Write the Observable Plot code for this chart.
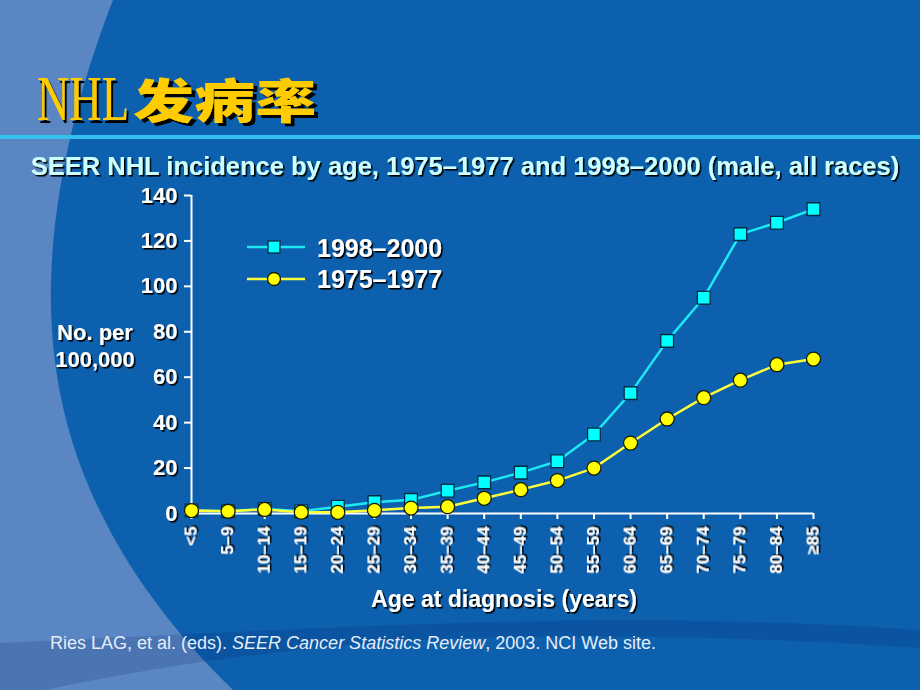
<!DOCTYPE html>
<html><head><meta charset="utf-8">
<script src="https://cdn.jsdelivr.net/npm/d3@7"></script>
<script src="https://cdn.jsdelivr.net/npm/@observablehq/plot@0.6"></script>
<style>
html,body{margin:0;padding:0;}
body{width:920px;height:690px;position:relative;overflow:hidden;background:#0d60ae;font-family:"Liberation Sans",Arial,sans-serif;}
.abs{position:absolute;left:0;top:0;}
</style></head>
<body>
<svg class="abs" width="920" height="690" id="bg">
  <defs>
    <filter id="ds" x="-10%" y="-20%" width="130%" height="150%">
      <feDropShadow dx="1.6" dy="1.6" stdDeviation="0.3" flood-color="#000" flood-opacity="1"/>
    </filter>
    <filter id="ds3" x="-10%" y="-20%" width="130%" height="150%">
      <feDropShadow dx="3" dy="3" stdDeviation="0.3" flood-color="#000" flood-opacity="1"/>
    </filter>
  </defs>
  <rect width="920" height="690" fill="#0d60ae"/>
  <path d="M0,0 L113,0 C70,110 45,230 52,330 C60,460 120,580 233,690 L0,690 Z" fill="#5a86c4"/>
  <path d="M0,643 C150,636 300,628 460,623 C620,618 780,620 920,630 L920,648 C780,638 620,634 460,638 C300,645 150,665 0,700 Z" fill="#001a60" fill-opacity="0.16"/>
  <rect x="0" y="135" width="920" height="4" fill="#35c0f0"/>
  <text transform="translate(37,120) scale(0.7,1)" font-family="'Liberation Serif','Times New Roman',serif" font-size="64" fill="#ffcc00" filter="url(#ds3)">NHL</text>
  <text transform="translate(133,118) scale(1.3,1)" font-family="'Noto Sans CJK SC',sans-serif" font-weight="900" font-size="47" fill="#ffcc00" filter="url(#ds3)">发病率</text>
  <text x="465" y="175" font-weight="bold" font-size="25.5" text-anchor="middle" fill="#ccffff" filter="url(#ds)">SEER NHL incidence by age, 1975–1977 and 1998–2000 (male, all races)</text>
  <g font-weight="bold" font-size="22" text-anchor="middle" fill="#fff" filter="url(#ds)">
    <text x="95" y="340">No. per</text>
    <text x="95" y="367">100,000</text>
  </g>
  <text x="504" y="607" font-weight="bold" font-size="23" text-anchor="middle" fill="#fff" filter="url(#ds)">Age at diagnosis (years)</text>
  <text x="50" y="649" font-size="18" fill="#e6edf7">Ries LAG, et al. (eds). <tspan font-style="italic">SEER Cancer Statistics Review</tspan>, 2003. NCI Web site.</text>
</svg>
<div id="chart" class="abs" style="top:180px;"></div>
<svg class="abs" width="920" height="690" id="legend" style="pointer-events:none">
  <line x1="247" y1="247" x2="305" y2="247" stroke="#1de9f6" stroke-width="2.5"/>
  <rect x="268" y="241" width="12" height="12" fill="#00ffff" stroke="#062a44" stroke-width="1.3"/>
  <line x1="247" y1="279" x2="305" y2="279" stroke="#ffff3a" stroke-width="2.5"/>
  <circle cx="274" cy="279" r="6.5" fill="#ffff00" stroke="#1a1a00" stroke-width="1.3"/>
  <g font-weight="bold" font-size="25" fill="#fff" filter="url(#ds)">
    <text x="317" y="257">1998–2000</text>
    <text x="317" y="288">1975–1977</text>
  </g>
</svg>
<script>
const ages = ["<5","5–9","10–14","15–19","20–24","25–29","30–34","35–39","40–44","45–49","50–54","55–59","60–64","65–69","70–74","75–79","80–84","≥85"];
const rate1998 = [1.3, 1.0, 2.0, 1.0, 3.0, 5.0, 6.0, 10.0, 13.7, 18.0, 23.0, 34.8, 53.0, 76.0, 95.0, 123.0, 128.0, 134.0];
const rate1975 = [1.3, 1.0, 1.8, 0.6, 0.5, 1.4, 2.4, 3.0, 6.7, 10.5, 14.5, 20.0, 31.0, 41.6, 51.0, 58.7, 65.5, 68.0];
const yTicks = [0, 20, 40, 60, 80, 100, 120, 140];

const rowsNew = ages.map((a, i) => ({age: a, v: rate1998[i]}));
const rowsOld = ages.map((a, i) => ({age: a, v: rate1975[i]}));

const chart = Plot.plot({
  width: 920,
  height: 440,
  marginTop: 15,
  marginBottom: 107,
  marginLeft: 191,
  marginRight: 107,
  style: {background: "transparent", color: "white", fontFamily: "'Liberation Sans', Arial, sans-serif", fontWeight: "bold", overflow: "visible"},
  x: {type: "point", domain: ages, padding: 0, round: false, axis: null},
  y: {domain: [0, 140], axis: null},
  marks: [
    Plot.axisY(yTicks, {tickSize: 7, tickPadding: 7, fill: "white", stroke: "white", strokeWidth: 2, fontSize: 22, label: null}),
    Plot.axisX(ages, {tickSize: 6, tickPadding: 7, tickRotate: -90, fill: "white", stroke: "white", strokeWidth: 2, fontSize: 17, label: null}),
    Plot.ruleX([ages[0]], {stroke: "white", strokeWidth: 2}),
    Plot.ruleY([0], {stroke: "white", strokeWidth: 2}),
    Plot.line(rowsNew, {x: "age", y: "v", stroke: "#1de9f6", strokeWidth: 2.5}),
    Plot.dot(rowsNew, {x: "age", y: "v", symbol: "square", r: 7.2, fill: "#00ffff", stroke: "#062a44", strokeWidth: 1.3}),
    Plot.line(rowsOld, {x: "age", y: "v", stroke: "#ffff3a", strokeWidth: 2.5}),
    Plot.dot(rowsOld, {x: "age", y: "v", r: 7, fill: "#ffff00", stroke: "#1a1a00", strokeWidth: 1.3})
  ]
});
chart.querySelectorAll("text").forEach(t => t.setAttribute("filter", "url(#ds)"));
document.getElementById("chart").appendChild(chart);
</script>
</body></html>
